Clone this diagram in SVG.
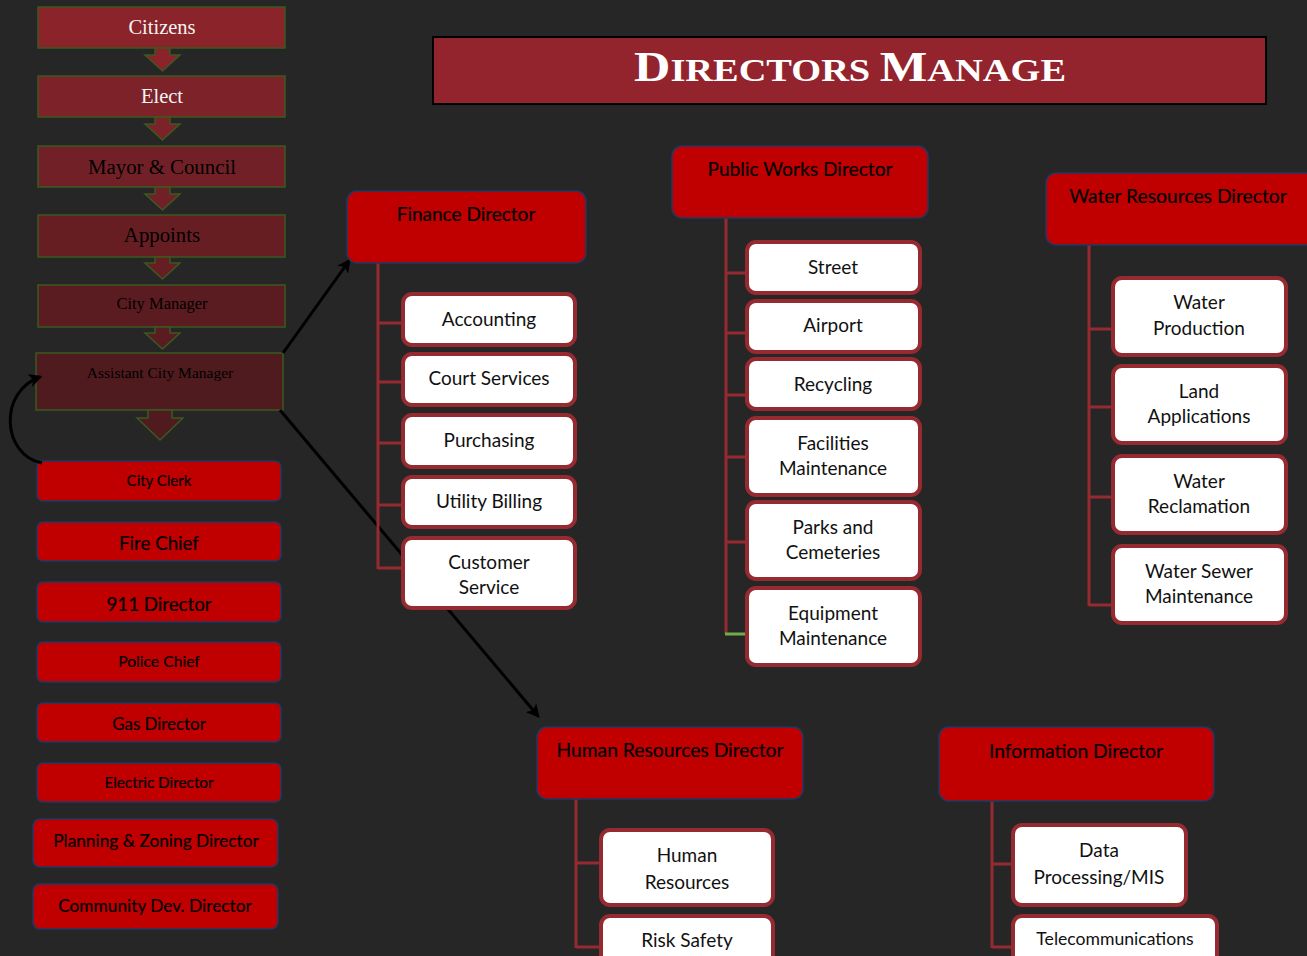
<svg xmlns="http://www.w3.org/2000/svg" width="1307" height="956" viewBox="0 0 1307 956">
<defs>
<marker id="ah" viewBox="0 0 10 10" refX="8" refY="5" markerWidth="4.5" markerHeight="4.5" orient="auto" markerUnits="strokeWidth">
<path d="M0,0 L10,5 L0,10 L2.5,5 z" fill="#000"/>
</marker>
<style>
.step{stroke:#3a5a1f;stroke-width:1.5}
.ser{font-family:"Liberation Serif","Times New Roman",serif;text-anchor:middle}
.lt{fill:#f4f4f4}
.dk{fill:#000}
.red{fill:#c00000;stroke:#1f3864;stroke-width:1.5}
.rt{font-family:Lato,"Open Sans",sans-serif;text-anchor:middle;fill:#000;stroke:#000;stroke-width:0.2}
.child{fill:#fff;stroke:#962a31;stroke-width:4}
.ct{font-family:Lato,"Open Sans",sans-serif;text-anchor:middle;fill:#111;font-size:19px}
.tl{fill:none;stroke:#962a31;stroke-width:3}
.ar{fill:none;stroke:#000;stroke-width:3;marker-end:url(#ah)}
</style>
</defs>
<rect width="1307" height="956" fill="#262626"/>

<g id="title">
<rect x="433" y="37" width="833" height="67" fill="#93232d" stroke="#000" stroke-width="2"/>
<text x="850" y="81" font-family="Liberation Serif,serif" font-weight="bold" fill="#fff" text-anchor="middle" textLength="432" lengthAdjust="spacingAndGlyphs"><tspan font-size="42">D</tspan><tspan font-size="32">IRECTORS </tspan><tspan font-size="42">M</tspan><tspan font-size="32">ANAGE</tspan></text>
</g>

<g id="citizens">
<rect class="step" x="38" y="7" width="247" height="41" fill="#8b232b"/>
<polygon class="step" points="155,48 170,48 170,55 180,55 162.5,71 145,55 155,55" fill="#8b232b"/>
<text class="ser lt" x="162" y="34" font-size="20.5">Citizens</text>
</g>
<g id="elect">
<rect class="step" x="38" y="76" width="247" height="41" fill="#7c2228"/>
<polygon class="step" points="155,117 170,117 170,124 180,124 162.5,140 145,124 155,124" fill="#7c2228"/>
<text class="ser lt" x="162" y="103" font-size="20.5">Elect</text>
</g>
<g id="mayor">
<rect class="step" x="38" y="146" width="247" height="41" fill="#722027"/>
<polygon class="step" points="155,187 170,187 170,194 180,194 162.5,210 145,194 155,194" fill="#722027"/>
<text class="ser dk" x="162" y="174" font-size="20.8">Mayor &amp; Council</text>
</g>
<g id="appoints">
<rect class="step" x="38" y="215" width="247" height="42" fill="#661e23"/>
<polygon class="step" points="155,257 170,257 170,263 180,263 162.5,279 145,263 155,263" fill="#661e23"/>
<text class="ser dk" x="162" y="242" font-size="20.8">Appoints</text>
</g>
<g id="city-manager">
<rect class="step" x="38" y="285" width="247" height="42" fill="#5a1c20"/>
<polygon class="step" points="155,327 170,327 170,333 180,333 162.5,349 145,333 155,333" fill="#5a1c20"/>
<text class="ser dk" x="162" y="309" font-size="16.5">City Manager</text>
</g>
<g id="assistant-city-manager">
<rect class="step" x="36" y="353" width="247" height="57" fill="#501b1e"/>
<polygon class="step" points="148,410 172,410 172,418 183,418 160,440 137,418 148,418" fill="#501b1e"/>
<text class="ser dk" x="160" y="378" font-size="15.5">Assistant City Manager</text>
</g>

<g id="city-clerk"><rect class="red" x="37" y="461" width="244" height="40" rx="6"/><text class="rt" x="159" y="486" font-size="15">City Clerk</text></g>
<g id="fire-chief"><rect class="red" x="37" y="522" width="244" height="39" rx="6"/><text class="rt" x="159" y="550" font-size="18.7">Fire Chief</text></g>
<g id="911-director"><rect class="red" x="37" y="582" width="244" height="40" rx="6"/><text class="rt" x="159" y="611" font-size="18.7">911 Director</text></g>
<g id="police-chief"><rect class="red" x="37" y="642" width="244" height="40" rx="6"/><text class="rt" x="159" y="667" font-size="15.7">Police Chief</text></g>
<g id="gas-director"><rect class="red" x="37" y="703" width="244" height="39" rx="6"/><text class="rt" x="159" y="730" font-size="16.9">Gas Director</text></g>
<g id="electric-director"><rect class="red" x="37" y="763" width="244" height="39" rx="6"/><text class="rt" x="159" y="788" font-size="15.3">Electric Director</text></g>
<g id="planning-director"><rect class="red" x="33" y="819" width="245" height="48" rx="7"/><text class="rt" x="156" y="847" font-size="17.3">Planning &amp; Zoning Director</text></g>
<g id="community-dev-director"><rect class="red" x="33" y="884" width="245" height="45" rx="7"/><text class="rt" x="155" y="912" font-size="17.3">Community Dev. Director</text></g>

<g id="connectors">
<path class="ar" d="M42,463 C2,455 -2,392 40,377"/>
<path class="ar" d="M283,353 L349,261"/>
<path class="ar" d="M280,410 L538,716"/>
<path class="tl" d="M378,263 V569 M378,323 H403 M378,382 H403 M378,443 H403 M378,505 H403 M378,568 H403"/>
<path class="tl" d="M726,218 V634 M726,273 H747 M726,333 H747 M726,395 H747 M726,457 H747 M726,542 H747"/>
<path d="M725,634 H747" stroke="#70ad47" stroke-width="3"/>
<path class="tl" d="M1089,245 V606 M1089,329 H1113 M1089,407 H1113 M1089,497 H1113 M1089,605 H1113"/>
<path class="tl" d="M576,799 V948 M576,863 H601 M576,947 H601"/>
<path class="tl" d="M992,801 V948 M992,864 H1013 M992,947 H1013"/>
</g>

<g id="finance-director"><rect class="red" x="347" y="191" width="239" height="72" rx="10"/><text class="rt" x="466" y="221" font-size="19">Finance Director</text></g>
<g id="accounting"><rect class="child" x="403" y="294" width="172" height="51" rx="9"/><text class="ct" x="489" y="326">Accounting</text></g>
<g id="court-services"><rect class="child" x="403" y="354" width="172" height="51" rx="9"/><text class="ct" x="489" y="385">Court Services</text></g>
<g id="purchasing"><rect class="child" x="403" y="415" width="172" height="52" rx="9"/><text class="ct" x="489" y="447">Purchasing</text></g>
<g id="utility-billing"><rect class="child" x="403" y="477" width="172" height="50" rx="9"/><text class="ct" x="489" y="508">Utility Billing</text></g>
<g id="customer-service"><rect class="child" x="403" y="538" width="172" height="70" rx="9"/><text class="ct" x="489" y="569">Customer</text><text class="ct" x="489" y="594">Service</text></g>

<g id="public-works-director"><rect class="red" x="672" y="146" width="256" height="72" rx="10"/><text class="rt" x="800" y="176" font-size="19.2">Public Works Director</text></g>
<g id="street"><rect class="child" x="747" y="242" width="173" height="51" rx="9"/><text class="ct" x="833" y="274">Street</text></g>
<g id="airport"><rect class="child" x="747" y="301" width="173" height="51" rx="9"/><text class="ct" x="833" y="332">Airport</text></g>
<g id="recycling"><rect class="child" x="747" y="359" width="173" height="50" rx="9"/><text class="ct" x="833" y="391">Recycling</text></g>
<g id="facilities-maintenance"><rect class="child" x="747" y="418" width="173" height="77" rx="9"/><text class="ct" x="833" y="450">Facilities</text><text class="ct" x="833" y="475">Maintenance</text></g>
<g id="parks-cemeteries"><rect class="child" x="747" y="502" width="173" height="77" rx="9"/><text class="ct" x="833" y="534">Parks and</text><text class="ct" x="833" y="559">Cemeteries</text></g>
<g id="equipment-maintenance"><rect class="child" x="747" y="588" width="173" height="77" rx="9"/><text class="ct" x="833" y="620">Equipment</text><text class="ct" x="833" y="645">Maintenance</text></g>

<g id="water-resources-director"><rect class="red" x="1046" y="173" width="275" height="72" rx="10"/><text class="rt" x="1178" y="203" font-size="19.3">Water Resources Director</text></g>
<g id="water-production"><rect class="child" x="1113" y="278" width="173" height="77" rx="9"/><text class="ct" x="1199" y="309">Water</text><text class="ct" x="1199" y="335">Production</text></g>
<g id="land-applications"><rect class="child" x="1113" y="366" width="173" height="77" rx="9"/><text class="ct" x="1199" y="398">Land</text><text class="ct" x="1199" y="423">Applications</text></g>
<g id="water-reclamation"><rect class="child" x="1113" y="456" width="173" height="77" rx="9"/><text class="ct" x="1199" y="488">Water</text><text class="ct" x="1199" y="513">Reclamation</text></g>
<g id="water-sewer-maintenance"><rect class="child" x="1113" y="546" width="173" height="77" rx="9"/><text class="ct" x="1199" y="578">Water Sewer</text><text class="ct" x="1199" y="603">Maintenance</text></g>

<g id="human-resources-director"><rect class="red" x="537" y="727" width="266" height="72" rx="10"/><text class="rt" x="670" y="757" font-size="19.3">Human Resources Director</text></g>
<g id="human-resources"><rect class="child" x="601" y="830" width="172" height="75" rx="9"/><text class="ct" x="687" y="862">Human</text><text class="ct" x="687" y="889">Resources</text></g>
<g id="risk-safety"><rect class="child" x="601" y="916" width="172" height="60" rx="9"/><text class="ct" x="687" y="947">Risk Safety</text></g>

<g id="information-director"><rect class="red" x="939" y="727" width="275" height="74" rx="10"/><text class="rt" x="1076" y="758" font-size="19.3">Information Director</text></g>
<g id="data-processing"><rect class="child" x="1013" y="825" width="173" height="80" rx="9"/><text class="ct" x="1099" y="857">Data</text><text class="ct" x="1099" y="884">Processing/MIS</text></g>
<g id="telecommunications"><rect class="child" x="1013" y="916" width="204" height="60" rx="9"/><text class="ct" x="1115" y="945" style="font-size:17.6px">Telecommunications</text></g>
</svg>
